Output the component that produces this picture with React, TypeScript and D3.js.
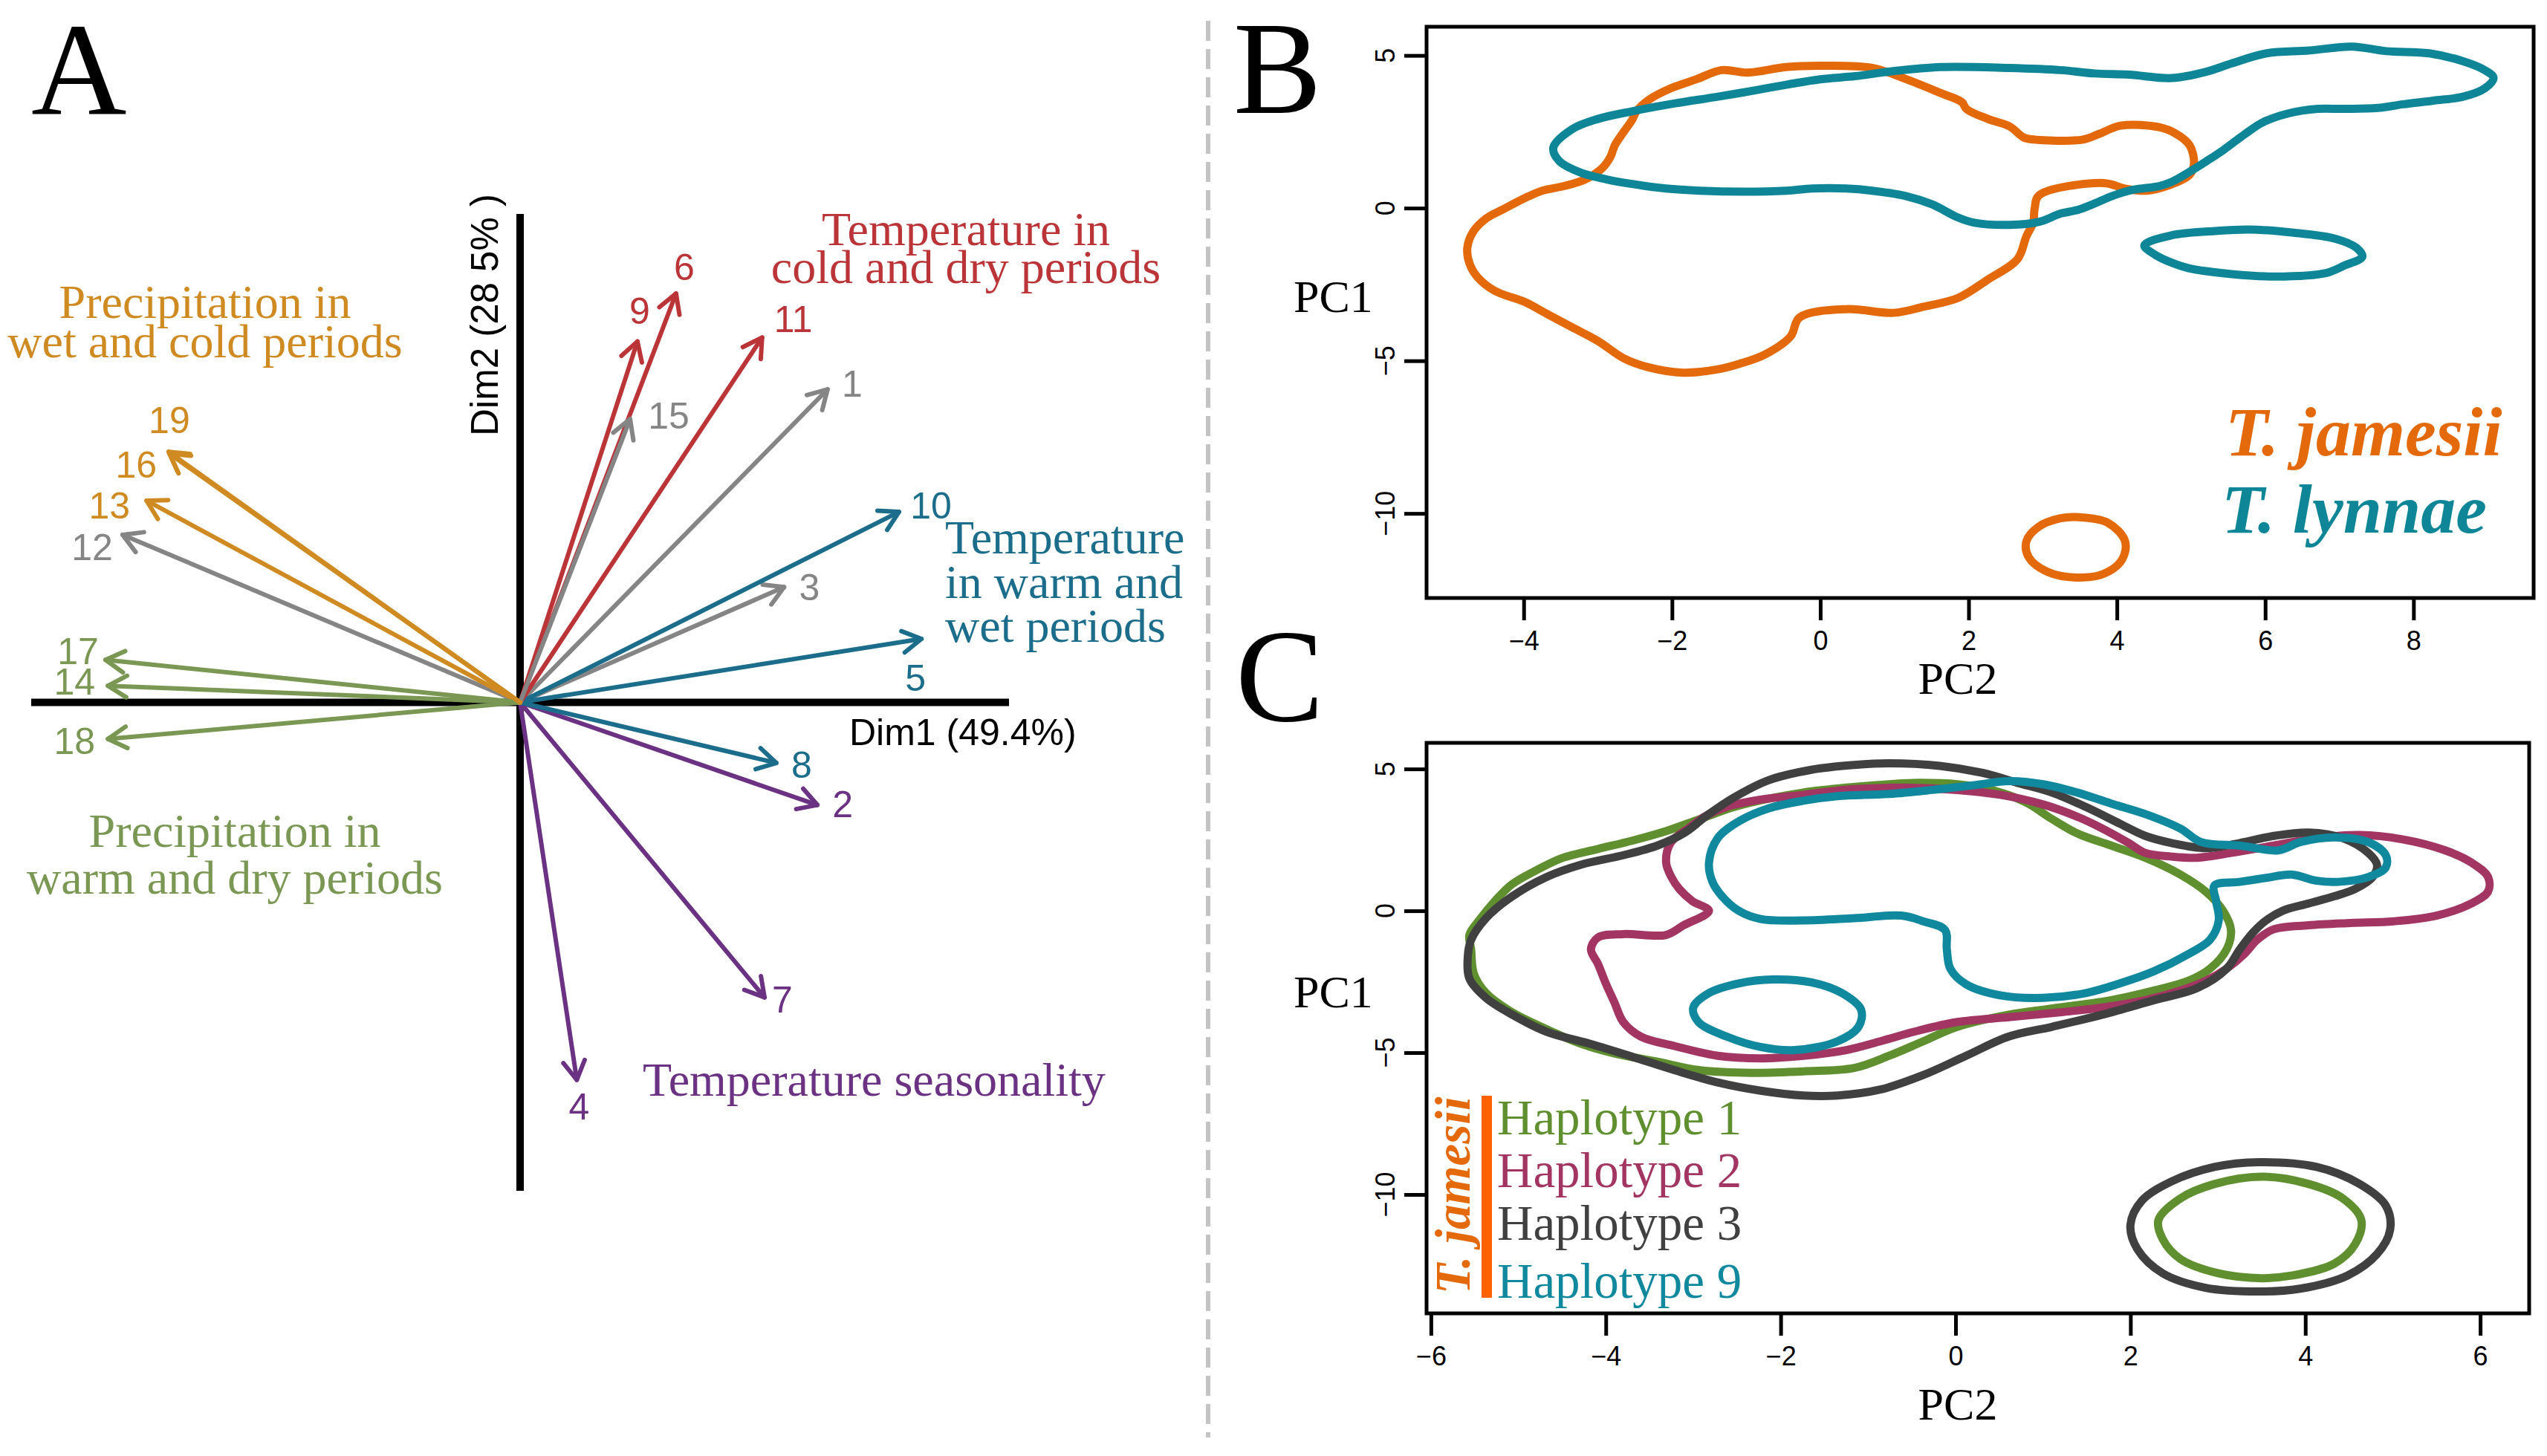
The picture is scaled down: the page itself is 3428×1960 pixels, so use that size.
import { useEffect, useRef } from 'react';
import * as d3 from 'd3';

// ---- panel A: PCA variable loadings (Dim1, Dim2) ----
const varNames = ['1', '2', '3', '4', '5', '6', '7', '8', '9', '10', '11', '12', '13', '14', '15', '16', '17', '18', '19'];
const varDim1 = [0.629, 0.608, 0.54, 0.116, 0.821, 0.319, 0.5, 0.524, 0.24, 0.775, 0.495, -0.813, -0.764, -0.843, 0.225, -0.717, -0.848, -0.843, -0.719];
const varDim2 = [0.641, -0.21, 0.236, -0.773, 0.13, 0.837, -0.604, -0.124, 0.739, 0.39, 0.747, 0.343, 0.413, 0.034, 0.58, 0.509, 0.087, -0.075, 0.513];
const varGroup = ['gray', 'purple', 'gray', 'purple', 'teal', 'red', 'purple', 'teal', 'red', 'teal', 'red', 'gray', 'gold', 'olive', 'gray', 'gold', 'olive', 'olive', 'gold'];

const goldLines = ['Precipitation in', 'wet and cold periods'];
const redLines = ['Temperature in', 'cold and dry periods'];
const tealLines = ['Temperature', 'in warm and', 'wet periods'];
const oliveLines = ['Precipitation in', 'warm and dry periods'];
const purpleLines = ['Temperature seasonality'];

const dim1Label = 'Dim1 (49.4%)';
const dim2Label = 'Dim2 (28 5% )';

// ---- panel B / C: density contours, points are [PC2, PC1] ----
const ticksB_x = [-4, -2, 0, 2, 4, 6, 8];
const ticksC_x = [-6, -4, -2, 0, 2, 4, 6];
const ticksY = [5, 0, -5, -10];

const jamesiiMain: [number, number][] = [
  [0.0, 4.66], [0.7, 4.59], [1.16, 4.22], [1.62, 3.77], [1.91, 3.47], [1.97, 3.25], [2.26, 2.92], [2.55, 2.68],
  [2.72, 2.35], [2.78, 2.28], [3.53, 2.24], [3.76, 2.43], [4.05, 2.7], [4.57, 2.65], [4.8, 2.43], [4.98, 2.06],
  [5.04, 1.46], [4.98, 1.09], [4.75, 0.79], [4.4, 0.57], [4.11, 0.64], [3.82, 0.82], [2.95, 0.42], [2.89, -0.03],
  [2.87, -0.48], [2.78, -0.92], [2.66, -1.67], [2.26, -2.34], [1.86, -2.94], [1.39, -3.23], [0.99, -3.43], [0.35, -3.31],
  [-0.28, -3.58], [-0.4, -4.2], [-0.75, -4.8], [-1.09, -5.1], [-1.38, -5.28], [-1.85, -5.39], [-2.31, -5.22], [-2.65, -4.92],
  [-3.0, -4.35], [-3.35, -3.9], [-3.69, -3.46], [-3.98, -3.08], [-4.39, -2.71], [-4.62, -2.27], [-4.73, -1.82], [-4.76, -1.3],
  [-4.68, -0.77], [-4.5, -0.33], [-4.27, -0.03], [-3.93, 0.39], [-3.75, 0.57], [-3.46, 0.72], [-3.17, 0.94], [-2.94, 1.31],
  [-2.83, 1.68], [-2.77, 2.06], [-2.65, 2.5], [-2.54, 2.88], [-2.48, 3.17], [-2.31, 3.55], [-2.02, 3.92], [-1.67, 4.22],
  [-1.33, 4.52], [-0.98, 4.44], [-0.46, 4.62],
];
const jamesiiIsland: [number, number][] = [
  [3.45, -10.12], [3.88, -10.31], [4.11, -10.91], [4.07, -11.51], [3.82, -11.98], [3.45, -12.1],
  [3.07, -11.92], [2.81, -11.43], [2.78, -10.91], [2.95, -10.43], [3.24, -10.16],
];
const lynnaeMain: [number, number][] = [
  [-3.6, 1.98], [-3.35, 2.58], [-3.0, 2.92], [-2.54, 3.17], [-1.96, 3.43], [-1.38, 3.65], [-0.92, 3.84], [-0.46, 4.04],
  [0.0, 4.22], [0.47, 4.32], [0.93, 4.47], [1.62, 4.62], [2.55, 4.59], [3.24, 4.52], [3.7, 4.41], [4.17, 4.37],
  [4.74, 4.26], [5.21, 4.47], [5.55, 4.74], [6.02, 5.07], [6.59, 5.16], [7.17, 5.29], [7.63, 5.14], [8.21, 5.07],
  [8.67, 4.81], [8.96, 4.52], [9.08, 4.26], [8.96, 3.92], [8.67, 3.65], [8.27, 3.52], [7.86, 3.4], [7.52, 3.28],
  [7.06, 3.25], [6.71, 3.25], [6.31, 3.1], [5.96, 2.8], [5.73, 2.43], [5.44, 1.91], [5.21, 1.54], [4.98, 1.19],
  [4.74, 0.86], [4.57, 0.72], [4.22, 0.6], [3.93, 0.39], [3.7, 0.15], [3.47, -0.06], [3.24, -0.18], [2.95, -0.45],
  [2.55, -0.55], [2.08, -0.48], [1.85, -0.3], [1.51, 0.12], [1.16, 0.39], [0.7, 0.57], [0.35, 0.64], [-0.11, 0.64],
  [-0.46, 0.57], [-1.04, 0.54], [-1.62, 0.57], [-2.08, 0.64], [-2.54, 0.79], [-2.88, 0.94], [-3.23, 1.16], [-3.52, 1.54],
];
const lynnaeIsland: [number, number][] = [
  [4.37, -1.22], [4.74, -0.89], [5.32, -0.75], [5.79, -0.7], [6.36, -0.8], [6.94, -1.0], [7.23, -1.3], [7.31, -1.59],
  [7.06, -1.89], [6.83, -2.12], [6.14, -2.24], [5.55, -2.16], [4.97, -1.97], [4.74, -1.79], [4.51, -1.52],
];

const hap1Main: [number, number][] = [
  [-0.42, 4.51], [0.02, 4.46], [0.41, 4.26], [0.8, 3.83], [1.1, 3.24], [1.39, 2.73], [1.78, 2.3], [2.17, 1.87],
  [2.57, 1.28], [2.86, 0.68], [3.06, 0.0], [3.15, -0.68], [3.1, -1.36], [2.91, -2.04], [2.66, -2.47], [2.27, -2.81],
  [1.78, -3.15], [1.19, -3.41], [0.61, -3.66], [0.02, -4.09], [-0.37, -4.6], [-0.76, -5.11], [-1.16, -5.54], [-1.74, -5.66],
  [-2.33, -5.71], [-2.92, -5.62], [-3.41, -5.32], [-3.9, -5.03], [-4.29, -4.68], [-4.68, -4.17], [-5.07, -3.58], [-5.37, -2.9],
  [-5.51, -2.21], [-5.54, -1.36], [-5.56, -0.85], [-5.45, -0.34], [-5.27, 0.34], [-5.07, 0.94], [-4.78, 1.45], [-4.49, 1.87],
  [-4.09, 2.18], [-3.7, 2.47], [-3.31, 2.81], [-2.92, 3.24], [-2.53, 3.66], [-2.14, 3.95], [-1.74, 4.17], [-1.25, 4.34], [-0.76, 4.46],
];
const hap1Island: [number, number][] = [
  [3.5, -9.37], [4.04, -9.63], [4.43, -10.14], [4.64, -10.9], [4.57, -11.75], [4.33, -12.44], [3.84, -12.86],
  [3.5, -12.95], [3.01, -12.78], [2.57, -12.27], [2.37, -11.58], [2.32, -10.9], [2.57, -10.14], [2.96, -9.63],
];
const hap2Main: [number, number][] = [
  [-2.62, 3.66], [-2.23, 3.92], [-1.74, 4.09], [-1.16, 4.29], [-0.57, 4.34], [0.02, 4.26], [0.51, 4.09], [1.0, 3.75],
  [1.39, 3.32], [1.68, 2.9], [1.98, 2.39], [2.17, 2.04], [2.47, 1.91], [2.76, 1.87], [3.15, 2.04], [3.64, 2.3],
  [4.13, 2.56], [4.62, 2.67], [5.11, 2.52], [5.6, 2.13], [5.9, 1.7], [6.09, 1.19], [6.09, 0.68], [5.9, 0.26],
  [5.5, -0.17], [5.01, -0.37], [4.52, -0.43], [4.04, -0.51], [3.64, -0.65], [3.45, -1.02], [3.3, -1.53], [3.1, -2.04],
  [2.86, -2.47], [2.57, -2.81], [2.17, -3.15], [1.68, -3.41], [1.19, -3.58], [0.61, -3.75], [0.02, -3.92], [-0.47, -4.26],
  [-0.86, -4.6], [-1.25, -4.91], [-1.74, -5.11], [-2.23, -5.2], [-2.72, -5.11], [-3.21, -4.77], [-3.6, -4.43], [-3.8, -3.92],
  [-3.9, -3.24], [-4.0, -2.56], [-4.09, -1.87], [-4.17, -1.36], [-4.09, -0.94], [-3.8, -0.82], [-3.31, -0.85], [-3.11, -0.51],
  [-2.82, 0.0], [-3.01, 0.34], [-3.16, 0.77], [-3.25, 1.19], [-3.31, 1.7], [-3.26, 2.39], [-3.06, 2.9], [-2.87, 3.32],
];
const hap3Main: [number, number][] = [
  [-0.76, 5.2], [-0.18, 5.11], [0.31, 4.86], [0.71, 4.51], [1.1, 4.17], [1.49, 3.66], [1.88, 3.07], [2.17, 2.64],
  [2.47, 2.39], [2.86, 2.21], [3.25, 2.39], [3.64, 2.64], [4.04, 2.76], [4.43, 2.56], [4.72, 2.04], [4.82, 1.62],
  [4.77, 1.19], [4.57, 0.77], [4.33, 0.51], [4.04, 0.26], [3.74, 0.0], [3.55, -0.34], [3.4, -0.77], [3.25, -1.36],
  [3.1, -2.04], [2.76, -2.73], [2.27, -3.15], [1.68, -3.66], [1.1, -4.09], [0.61, -4.43], [0.12, -5.11], [-0.37, -5.79],
  [-0.86, -6.3], [-1.35, -6.51], [-1.74, -6.51], [-2.23, -6.34], [-2.72, -6.05], [-3.21, -5.62], [-3.7, -5.14], [-4.19, -4.68],
  [-4.68, -4.26], [-5.07, -3.66], [-5.37, -3.07], [-5.56, -2.39], [-5.58, -1.7], [-5.54, -1.02], [-5.37, -0.26], [-5.07, 0.51],
  [-4.68, 1.19], [-4.29, 1.62], [-3.8, 1.96], [-3.41, 2.3], [-3.11, 2.73], [-2.82, 3.41], [-2.53, 4.0], [-2.14, 4.6],
  [-1.65, 4.97], [-1.16, 5.14],
];
const hap3Island: [number, number][] = [
  [3.47, -8.86], [4.13, -9.03], [4.62, -9.63], [4.92, -10.39], [4.97, -11.24], [4.82, -12.1], [4.48, -12.86], [3.94, -13.32],
  [3.47, -13.42], [2.86, -13.29], [2.37, -12.78], [2.08, -11.93], [2.0, -11.07], [2.13, -10.22], [2.47, -9.54], [2.96, -9.03],
];
const hap9Main: [number, number][] = [
  [-2.82, 1.7], [-2.72, 2.56], [-2.48, 3.15], [-2.14, 3.61], [-1.74, 3.88], [-1.35, 4.04], [-0.76, 4.12], [-0.27, 4.26],
  [0.22, 4.43], [0.61, 4.57], [1.0, 4.46], [1.39, 4.17], [1.78, 3.78], [2.17, 3.41], [2.57, 2.9], [2.81, 2.42],
  [3.25, 2.3], [3.69, 2.13], [3.94, 2.42], [4.33, 2.59], [4.72, 2.42], [4.92, 1.96], [4.92, 1.53], [4.72, 1.19],
  [4.38, 1.02], [4.13, 1.06], [3.84, 1.28], [3.55, 1.16], [3.25, 1.02], [2.96, 0.89], [2.98, 0.34], [3.01, -0.34],
  [2.91, -1.02], [2.66, -1.53], [2.27, -2.13], [1.88, -2.56], [1.49, -2.9], [1.0, -3.07], [0.51, -2.98], [0.12, -2.59],
  [-0.06, -2.04], [-0.1, -1.36], [-0.12, -0.68], [-0.37, -0.37], [-0.62, -0.17], [-1.16, -0.26], [-1.74, -0.34], [-2.23, -0.29],
  [-2.48, 0.0], [-2.67, 0.51], [-2.78, 1.02],
];
const hap9Island: [number, number][] = [
  [-2.09, -2.42], [-1.65, -2.52], [-1.3, -2.9], [-1.08, -3.49], [-1.11, -4.09], [-1.35, -4.6], [-1.84, -4.91],
  [-2.23, -4.8], [-2.62, -4.43], [-2.94, -3.92], [-3.0, -3.41], [-2.82, -2.9], [-2.48, -2.56],
];

const speciesNames = ['T. jamesii', 'T. lynnae'];
const haplotypeNames = ['Haplotype 1', 'Haplotype 2', 'Haplotype 3', 'Haplotype 9'];

// ---- layout / style ----
const W = 3428;
const H = 1960;
const SERIF = "'Liberation Serif', 'Times New Roman', serif";
const SANS = "'Liberation Sans', Arial, sans-serif";

const groupColor: Record<string, string> = {
  gold: '#cf8b22',
  red: '#bb3438',
  gray: '#858585',
  teal: '#1b6d8b',
  olive: '#7a9853',
  purple: '#6b3283',
};

// label offsets from arrow tip, px
const labelNudge: [number, number][] = [
  [33, -7], [34, -1], [34, 1], [3, 36], [-8, 53], [11, -35], [24, 3], [34, 3], [3, -41], [43, -8],
  [42, -24], [-41, 17], [-50, 7], [-45, -5], [52, -4], [-45, 15], [-37, -11], [-45, 3], [1, -42],
];

const orangeB = '#e4690a';
const tealB = '#0e8698';
const hapColors = ['#5f8f2f', '#a23562', '#404040', '#10889e'];

export default function App() {
  const svgRef = useRef<SVGSVGElement | null>(null);

  useEffect(() => {
    if (!svgRef.current) return;
    const svg = d3.select(svgRef.current);
    svg.selectAll('*').remove();

    svg.append('rect').attr('width', W).attr('height', H).attr('fill', '#fff');

    // panel letters
    const letters: [string, number, number][] = [['A', 42, 154], ['B', 1660, 152], ['C', 1663, 970]];
    svg
      .selectAll('text.letter')
      .data(letters)
      .join('text')
      .attr('class', 'letter')
      .attr('x', (d) => d[1])
      .attr('y', (d) => d[2])
      .attr('font-family', SERIF)
      .attr('font-size', 178)
      .text((d) => d[0]);

    // dashed separator
    svg
      .append('line')
      .attr('x1', 1626)
      .attr('x2', 1626)
      .attr('y1', 28)
      .attr('y2', 1935)
      .attr('stroke', '#c4c4c4')
      .attr('stroke-width', 6)
      .attr('stroke-dasharray', '27 11');

    // ---------- panel A ----------
    const xA = d3.scaleLinear().domain([-1, 1]).range([42, 1358]);
    const yA = d3.scaleLinear().domain([-1, 1]).range([1603, 288]);
    const gA = svg.append('g');

    gA.append('line')
      .attr('x1', xA(-1)).attr('x2', xA(1))
      .attr('y1', yA(0)).attr('y2', yA(0))
      .attr('stroke', '#000').attr('stroke-width', 10);
    gA.append('line')
      .attr('x1', xA(0)).attr('x2', xA(0))
      .attr('y1', yA(-1)).attr('y2', yA(1))
      .attr('stroke', '#000').attr('stroke-width', 10);

    const ox = xA(0);
    const oy = yA(0);
    const headLen = 29;
    const vars = varNames.map((name, i) => ({
      name,
      tx: xA(varDim1[i]),
      ty: yA(varDim2[i]),
      color: groupColor[varGroup[i]],
      nudge: labelNudge[i],
    }));

    const arrows = gA.append('g').attr('fill', 'none').attr('stroke-width', 6)
      .attr('stroke-linecap', 'round').attr('stroke-linejoin', 'round');
    vars.forEach((v) => {
      const a = Math.atan2(v.ty - oy, v.tx - ox);
      const b1 = [v.tx + headLen * Math.cos(a + Math.PI - Math.PI / 6), v.ty + headLen * Math.sin(a + Math.PI - Math.PI / 6)];
      const b2 = [v.tx + headLen * Math.cos(a + Math.PI + Math.PI / 6), v.ty + headLen * Math.sin(a + Math.PI + Math.PI / 6)];
      arrows.append('line')
        .attr('x1', ox).attr('y1', oy).attr('x2', v.tx).attr('y2', v.ty)
        .attr('stroke', v.color);
      arrows.append('path')
        .attr('d', `M${b1[0]},${b1[1]}L${v.tx},${v.ty}L${b2[0]},${b2[1]}`)
        .attr('stroke', v.color);
    });

    gA.append('g')
      .selectAll('text')
      .data(vars)
      .join('text')
      .attr('x', (d) => d.tx + d.nudge[0])
      .attr('y', (d) => d.ty + d.nudge[1])
      .attr('text-anchor', 'middle')
      .attr('dominant-baseline', 'central')
      .attr('font-family', SANS)
      .attr('font-size', 50)
      .attr('fill', (d) => d.color)
      .text((d) => d.name);

    // axis titles
    gA.append('text')
      .attr('x', 1143).attr('y', 1003)
      .attr('font-family', SANS).attr('font-size', 50)
      .text(dim1Label);
    gA.append('text')
      .attr('transform', 'translate(670,587) rotate(-90)')
      .attr('font-family', SANS).attr('font-size', 51)
      .text(dim2Label);

    // group captions
    const captions: { lines: string[]; color: string; x: number; y: number; lh: number; anchor: string }[] = [
      { lines: goldLines, color: groupColor.gold, x: 276, y: 428, lh: 53, anchor: 'middle' },
      { lines: redLines, color: groupColor.red, x: 1300, y: 330, lh: 51, anchor: 'middle' },
      { lines: tealLines, color: groupColor.teal, x: 1272, y: 745, lh: 59.5, anchor: 'start' },
      { lines: oliveLines, color: groupColor.olive, x: 316, y: 1140, lh: 63, anchor: 'middle' },
      { lines: purpleLines, color: groupColor.purple, x: 865, y: 1475, lh: 60, anchor: 'start' },
    ];
    captions.forEach((c) => {
      gA.append('g')
        .selectAll('text')
        .data(c.lines)
        .join('text')
        .attr('x', c.x)
        .attr('y', (_d, i) => c.y + i * c.lh)
        .attr('text-anchor', c.anchor)
        .attr('font-family', SERIF)
        .attr('font-size', 64)
        .attr('fill', c.color)
        .text((d) => d);
    });

    // ---------- panels B and C ----------
    const fmt = (v: number) => (v < 0 ? '\u2212' + Math.abs(v) : String(v));

    function frame(
      x: d3.ScaleLinear<number, number>,
      y: d3.ScaleLinear<number, number>,
      xTicks: number[],
      pc1Baseline: number,
      pc2Baseline: number,
    ) {
      const g = svg.append('g');
      const [x0, x1] = x.range();
      const [y0, y1] = y.range();
      g.append('rect')
        .attr('x', x0).attr('y', y1)
        .attr('width', x1 - x0).attr('height', y0 - y1)
        .attr('fill', 'none').attr('stroke', '#000').attr('stroke-width', 5);

      const xAxis = g.append('g')
        .attr('transform', `translate(0,${y0})`)
        .call(d3.axisBottom(x).tickValues(xTicks).tickSize(30).tickPadding(14).tickFormat((v) => fmt(+v)));
      xAxis.select('.domain').remove();
      xAxis.selectAll('line').attr('stroke', '#000').attr('stroke-width', 5);
      xAxis.selectAll('text')
        .attr('font-family', SANS).attr('font-size', 36).attr('fill', '#000');

      const yAxis = g.append('g')
        .attr('transform', `translate(${x0},0)`)
        .call(d3.axisLeft(y).tickValues(ticksY).tickSize(30).tickFormat(() => ''));
      yAxis.select('.domain').remove();
      yAxis.selectAll('line').attr('stroke', '#000').attr('stroke-width', 5);
      g.append('g')
        .selectAll('text')
        .data(ticksY)
        .join('text')
        .attr('transform', (d) => `translate(${x0 - 56},${y(d)}) rotate(-90)`)
        .attr('text-anchor', 'middle')
        .attr('dominant-baseline', 'central')
        .attr('font-family', SANS)
        .attr('font-size', 36)
        .text((d) => fmt(d));

      g.append('text')
        .attr('x', 1741).attr('y', pc1Baseline)
        .attr('font-family', SERIF).attr('font-size', 62)
        .text('PC1');
      g.append('text')
        .attr('x', 2635).attr('y', pc2Baseline)
        .attr('text-anchor', 'middle')
        .attr('font-family', SERIF).attr('font-size', 62)
        .text('PC2');
      return g;
    }

    function contour(
      g: d3.Selection<SVGGElement, unknown, null, undefined>,
      x: d3.ScaleLinear<number, number>,
      y: d3.ScaleLinear<number, number>,
      pts: [number, number][],
      color: string,
    ) {
      const line = d3.line<[number, number]>()
        .x((d) => x(d[0]))
        .y((d) => y(d[1]))
        .curve(d3.curveCatmullRomClosed.alpha(0.5));
      g.append('path')
        .attr('d', line(pts))
        .attr('fill', 'none')
        .attr('stroke', color)
        .attr('stroke-width', 11)
        .attr('stroke-linejoin', 'round');
    }

    // panel B
    const xB = d3.scaleLinear().domain([-5.31, 9.62]).range([1920, 3410]);
    const yB = d3.scaleLinear().domain([-12.77, 5.94]).range([805, 36]);
    const gB = frame(xB, yB, ticksB_x, 420, 934);
    contour(gB, xB, yB, jamesiiMain, orangeB);
    contour(gB, xB, yB, jamesiiIsland, orangeB);
    contour(gB, xB, yB, lynnaeMain, tealB);
    contour(gB, xB, yB, lynnaeIsland, tealB);

    gB.append('g')
      .selectAll('text')
      .data(speciesNames)
      .join('text')
      .attr('x', (_d, i) => (i === 0 ? 2995 : 2990))
      .attr('y', (_d, i) => (i === 0 ? 613 : 717))
      .attr('font-family', SERIF)
      .attr('font-style', 'italic')
      .attr('font-weight', 'bold')
      .attr('font-size', 94)
      .attr('fill', (_d, i) => (i === 0 ? orangeB : tealB))
      .text((d) => d);

    // panel C
    const xC = d3.scaleLinear().domain([-6.05, 6.56]).range([1920, 3404]);
    const yC = d3.scaleLinear().domain([-14.19, 5.92]).range([1768, 1000]);
    const gC = frame(xC, yC, ticksC_x, 1356, 1911);
    contour(gC, xC, yC, hap1Main, hapColors[0]);
    contour(gC, xC, yC, hap1Island, hapColors[0]);
    contour(gC, xC, yC, hap2Main, hapColors[1]);
    contour(gC, xC, yC, hap3Main, hapColors[2]);
    contour(gC, xC, yC, hap3Island, hapColors[2]);
    contour(gC, xC, yC, hap9Main, hapColors[3]);
    contour(gC, xC, yC, hap9Island, hapColors[3]);

    const hapBaselines = [1527, 1598, 1669, 1747];
    gC.append('g')
      .selectAll('text')
      .data(haplotypeNames)
      .join('text')
      .attr('x', 2015)
      .attr('y', (_d, i) => hapBaselines[i])
      .attr('font-family', SERIF)
      .attr('font-size', 67)
      .attr('fill', (_d, i) => hapColors[i])
      .text((d) => d);
    gC.append('rect')
      .attr('x', 1994).attr('y', 1475)
      .attr('width', 14).attr('height', 272)
      .attr('fill', '#ff6200');
    gC.append('text')
      .attr('transform', 'translate(1978,1742) rotate(-90)')
      .attr('font-family', SERIF)
      .attr('font-style', 'italic')
      .attr('font-weight', 'bold')
      .attr('font-size', 67)
      .attr('fill', orangeB)
      .text(speciesNames[0]);
  }, []);

  return (
    <svg
      ref={svgRef}
      width={W}
      height={H}
      viewBox={`0 0 ${W} ${H}`}
      style={{ position: 'absolute', left: 0, top: 0, display: 'block' }}
    />
  );
}
